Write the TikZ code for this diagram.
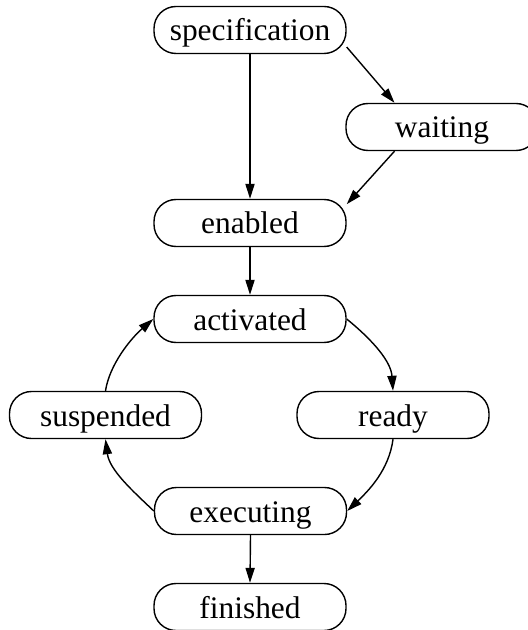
\documentclass[tikz,border=0pt]{standalone}
\usepackage{fontspec}
\setmainfont{Liberation Serif}
\usetikzlibrary{arrows.meta}

\tikzset{
  state/.style={draw, line width=0.7pt, rounded corners=11pt,
    minimum width=96pt, minimum height=23.5pt, inner sep=0pt,
    text height=14.9pt, text depth=3.9pt,
    font=\fontsize{15.7pt}{18pt}\selectfont},
  edge/.style={line width=0.7pt, -{Triangle[length=7.5pt,width=4.6pt]}}
}

\begin{document}
\begin{tikzpicture}[x=0.5pt, y=-0.5pt]
  \useasboundingbox (0,0) rectangle (528,630);
  \clip (0,0) rectangle (528,630);

  % states of the task life cycle
  \node[state] (spec) at (250,30)  {specification};
  \node[state] (wait) at (442,127) {waiting};
  \node[state] (enab) at (250,223) {enabled};
  \node[state] (act)  at (250,319) {activated};
  \node[state] (susp) at (105.5,415) {suspended};
  \node[state] (ready) at (393,415) {ready};
  \node[state] (exec) at (250.5,511) {executing};
  \node[state] (fin)  at (250,607) {finished};

  % straight transitions
  \draw[edge] (spec.south) -- (enab.north);
  \draw[edge] (spec.-10) -- (wait.153);
  \draw[edge] (wait.207.5) -- (enab.11.6);
  \draw[edge] (enab.south) -- (act.north);
  \draw[edge] (exec.south) -- (fin.north);

  % the activation / execution cycle
  \draw[edge] (act.east) .. controls +(27,22) and +(-2,-29) .. (ready.north);
  \draw[edge] (ready.south) .. controls +(-4,31) and +(21,-20) .. (exec.east);
  \draw[edge] (exec.west) .. controls +(-21,-20) and +(4,31) .. (susp.south);
  \draw[edge] (susp.north) .. controls +(4,-26) and +(-23,20) .. (act.west);
\end{tikzpicture}
\end{document}
